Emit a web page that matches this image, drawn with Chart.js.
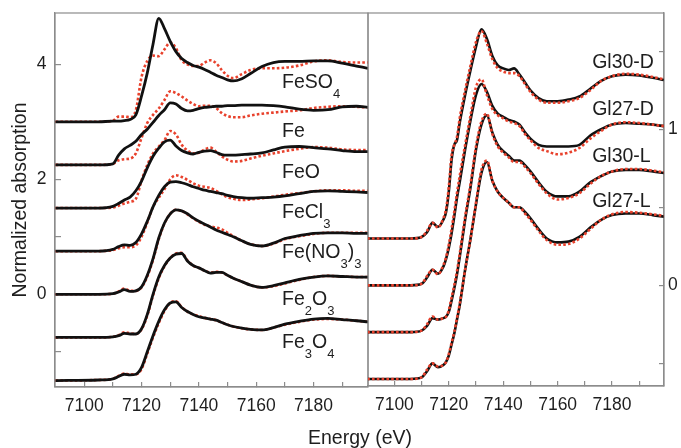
<!DOCTYPE html>
<html><head><meta charset="utf-8">
<script src="https://cdn.jsdelivr.net/npm/chart.js@4.4.1/dist/chart.umd.min.js"></script>
<style>
html,body{margin:0;padding:0;background:#fff;}
#wrap{position:relative;width:681px;height:448px;}
canvas{position:absolute;left:0;top:0;}
</style></head><body>
<div id="wrap"><canvas id="cL" width="681" height="448"></canvas><canvas id="cR" width="681" height="448"></canvas></div>
<script>
// ---------- DATA: left panel (reference compounds) ----------
const energyLeft = [7090,7105,7110,7112,7114,7116,7118,7120,7122,7124,7126,7128,7130,7132,7134,7136,7138,7140,7142,7144,7146,7148,7150,7152,7155,7158,7162,7166,7170,7175,7180,7185,7190,7195,7199];
const feso4Exp = [3.0,3.0,3.01,3.01,3.02,3.04,3.12,3.45,3.85,4.35,4.8,4.62,4.4,4.22,4.1,4.03,3.98,3.95,3.91,3.86,3.81,3.77,3.73,3.71,3.75,3.84,3.96,4.03,4.05,4.05,4.06,4.06,4.02,3.97,3.93];
const feso4Fit = [3.0,3.0,3.02,3.09,3.09,3.08,3.2,3.78,4.06,4.15,4.14,4.26,4.38,4.28,4.07,4.0,3.97,3.97,4.03,4.07,4.02,3.9,3.8,3.76,3.83,3.9,3.93,3.93,3.94,3.98,4.05,4.07,4.04,4.03,4.03];
const feExp = [2.25,2.25,2.27,2.42,2.53,2.59,2.66,2.78,2.87,2.99,3.11,3.21,3.33,3.31,3.23,3.19,3.2,3.23,3.25,3.26,3.27,3.27,3.28,3.28,3.29,3.29,3.29,3.28,3.26,3.22,3.2,3.21,3.26,3.27,3.25];
const feFit = [2.25,2.25,2.27,2.33,2.35,2.36,2.45,2.72,2.98,3.12,3.23,3.38,3.53,3.5,3.44,3.37,3.31,3.27,3.28,3.28,3.24,3.15,3.1,3.08,3.08,3.11,3.14,3.16,3.18,3.2,3.24,3.26,3.27,3.26,3.25];
const feoExp = [1.5,1.5,1.53,1.58,1.64,1.69,1.8,1.97,2.2,2.4,2.54,2.65,2.68,2.58,2.5,2.46,2.44,2.47,2.49,2.5,2.47,2.43,2.42,2.42,2.43,2.44,2.46,2.51,2.56,2.57,2.55,2.53,2.5,2.48,2.48];
const feoFit = [1.5,1.5,1.51,1.54,1.58,1.61,1.66,1.98,2.25,2.45,2.57,2.68,2.84,2.78,2.6,2.5,2.45,2.46,2.52,2.55,2.48,2.4,2.34,2.31,2.32,2.36,2.41,2.45,2.49,2.53,2.56,2.55,2.52,2.51,2.51];
const fecl3Exp = [0.75,0.75,0.78,0.83,0.86,0.85,0.9,1.05,1.27,1.52,1.72,1.87,1.95,1.96,1.94,1.91,1.87,1.84,1.81,1.79,1.77,1.75,1.72,1.7,1.68,1.67,1.68,1.69,1.71,1.75,1.79,1.8,1.79,1.78,1.77];
const fecl3Fit = [0.75,0.75,0.77,0.8,0.82,0.82,0.85,1.0,1.25,1.52,1.68,1.83,2.0,2.07,2.04,1.99,1.93,1.89,1.87,1.85,1.8,1.74,1.69,1.66,1.64,1.65,1.67,1.7,1.73,1.76,1.79,1.81,1.81,1.8,1.8];
const fenitrateExp = [0,0,0.01,0.04,0.08,0.05,0.06,0.13,0.33,0.62,0.98,1.24,1.4,1.47,1.45,1.4,1.33,1.27,1.22,1.17,1.12,1.08,1.04,1.0,0.93,0.87,0.84,0.89,0.97,1.02,1.06,1.07,1.07,1.06,1.06];
const fenitrateFit = [0,0,0.01,0.05,0.1,0.06,0.06,0.12,0.31,0.6,0.96,1.23,1.4,1.47,1.45,1.39,1.32,1.26,1.21,1.18,1.16,1.13,1.07,1.01,0.93,0.87,0.84,0.88,0.96,1.01,1.05,1.07,1.07,1.07,1.07];
const fe2o3Exp = [-0.75,-0.75,-0.74,-0.72,-0.68,-0.69,-0.69,-0.6,-0.35,0.0,0.3,0.5,0.63,0.7,0.71,0.58,0.5,0.46,0.41,0.37,0.38,0.38,0.33,0.28,0.22,0.16,0.12,0.15,0.2,0.26,0.3,0.32,0.31,0.3,0.3];
const fe2o3Fit = [-0.75,-0.75,-0.74,-0.71,-0.66,-0.68,-0.69,-0.61,-0.37,-0.02,0.28,0.49,0.63,0.71,0.72,0.59,0.5,0.46,0.41,0.38,0.39,0.38,0.33,0.28,0.22,0.16,0.12,0.14,0.19,0.25,0.3,0.32,0.31,0.3,0.3];
const fe3o4Exp = [-1.5,-1.49,-1.47,-1.43,-1.39,-1.4,-1.39,-1.27,-1.0,-0.72,-0.47,-0.27,-0.15,-0.13,-0.23,-0.3,-0.35,-0.39,-0.41,-0.43,-0.45,-0.49,-0.53,-0.56,-0.59,-0.61,-0.62,-0.58,-0.52,-0.47,-0.43,-0.42,-0.44,-0.46,-0.48];
const fe3o4Fit = [-1.5,-1.49,-1.47,-1.42,-1.38,-1.39,-1.39,-1.3,-1.03,-0.75,-0.5,-0.29,-0.15,-0.12,-0.22,-0.3,-0.35,-0.38,-0.41,-0.43,-0.45,-0.49,-0.53,-0.56,-0.59,-0.61,-0.62,-0.58,-0.53,-0.48,-0.44,-0.43,-0.44,-0.46,-0.48];
const leftNames = ['FeSO_4','Fe','FeO','FeCl_3','Fe(NO_3)_3','Fe_2O_3','Fe_3O_4'];

// ---------- DATA: right panel (glass samples) ----------
const energyRight = [7090,7100,7106,7110,7112,7114,7116,7118,7119,7120,7121,7122,7123,7124,7126,7128,7130,7132,7134,7136,7138,7140,7142,7144,7146,7148,7150,7153,7156,7160,7164,7168,7172,7176,7180,7185,7190,7195,7199];
const gl30dExp = [0.3,0.3,0.3,0.31,0.34,0.4,0.375,0.42,0.47,0.6,0.8,0.9,0.93,1.04,1.22,1.38,1.53,1.64,1.58,1.47,1.41,1.39,1.38,1.39,1.35,1.3,1.25,1.2,1.18,1.18,1.19,1.21,1.26,1.31,1.34,1.35,1.345,1.33,1.316];
const gl30dFit = [0.3,0.3,0.3,0.31,0.35,0.4,0.37,0.43,0.49,0.63,0.83,0.9,0.95,1.07,1.25,1.41,1.56,1.63,1.55,1.45,1.39,1.37,1.36,1.36,1.34,1.29,1.24,1.19,1.17,1.17,1.18,1.2,1.25,1.31,1.34,1.355,1.35,1.335,1.32];
const gl27dExp = [0,0,0,0.01,0.05,0.1,0.075,0.12,0.17,0.24,0.33,0.44,0.56,0.66,0.87,1.06,1.22,1.29,1.24,1.15,1.1,1.08,1.06,1.05,1.03,0.98,0.94,0.9,0.89,0.89,0.89,0.9,0.96,1.0,1.03,1.04,1.035,1.03,1.02];
const gl27dFit = [0,0,0,0.01,0.06,0.1,0.07,0.13,0.18,0.26,0.36,0.47,0.59,0.7,0.9,1.09,1.27,1.32,1.22,1.13,1.09,1.07,1.05,1.04,1.02,0.97,0.93,0.88,0.86,0.84,0.85,0.88,0.94,0.99,1.03,1.045,1.04,1.03,1.02];
const gl30lExp = [-0.3,-0.3,-0.3,-0.29,-0.26,-0.21,-0.22,-0.21,-0.2,-0.17,-0.1,-0.02,0.07,0.18,0.42,0.63,0.87,1.03,1.09,0.98,0.9,0.86,0.83,0.8,0.8,0.77,0.73,0.66,0.6,0.57,0.57,0.6,0.66,0.7,0.73,0.74,0.74,0.73,0.72];
const gl30lFit = [-0.3,-0.3,-0.3,-0.29,-0.25,-0.2,-0.22,-0.21,-0.2,-0.16,-0.08,0.0,0.09,0.2,0.44,0.65,0.89,1.05,1.1,0.97,0.89,0.85,0.82,0.79,0.79,0.76,0.72,0.65,0.59,0.55,0.56,0.59,0.65,0.7,0.73,0.745,0.745,0.735,0.725];
const gl27lExp = [-0.6,-0.6,-0.6,-0.59,-0.55,-0.5,-0.525,-0.51,-0.49,-0.45,-0.38,-0.31,-0.22,-0.13,0.1,0.3,0.52,0.72,0.79,0.67,0.6,0.56,0.53,0.5,0.5,0.47,0.43,0.36,0.3,0.275,0.28,0.31,0.37,0.42,0.45,0.46,0.46,0.45,0.44];
const gl27lFit = [-0.6,-0.6,-0.6,-0.59,-0.54,-0.5,-0.52,-0.51,-0.49,-0.44,-0.37,-0.3,-0.21,-0.12,0.1,0.3,0.53,0.74,0.8,0.67,0.6,0.56,0.53,0.5,0.5,0.46,0.42,0.35,0.29,0.26,0.265,0.3,0.36,0.42,0.455,0.47,0.465,0.455,0.445];
const rightNames = ['Gl30-D','Gl27-D','Gl30-L','Gl27-L'];

// ---------- TICKS ----------
const xTicks = [7100,7110,7120,7130,7140,7150,7160,7170,7180,7190];
const xTickLabels = [7100,7120,7140,7160,7180];
const yTicksLeft = [-1,0,1,2,3,4];
const yTickLabelsLeft = [0,2,4];
const yTicksRight = [-0.5,0,0.5,1,1.5];
const yTickLabelsRight = [0,1];

// ---------- STYLE / LAYOUT ----------
const FONT = '"Liberation Sans", Arial, sans-serif';
const BLACK = '#111111', RED = '#e8412c', FRAME = '#8c8c8c', TXT = '#1e1e1e';
const leftLabelPos = {e: 7169, y: [3.583, 2.741, 2.017, 1.322, 0.626, -0.186, -0.939]};
const rightLabelPos = {e: 7172.7, y: [1.391, 1.092, 0.792, 0.504]};

const pts = (xs, ys) => xs.map((x, i) => ({x, y: ys[i]}));

function drawRich(ctx, x, y, text, size, subSize, subDrop) {
  const runs = [];
  for (let i = 0; i < text.length; i++) {
    let ch = text[i], sub = false;
    if (ch === '_') { sub = true; ch = text[++i]; }
    if (runs.length && runs[runs.length-1].sub === sub) runs[runs.length-1].t += ch;
    else runs.push({t: ch, sub});
  }
  let cx = x;
  ctx.textAlign = 'left';
  ctx.textBaseline = 'alphabetic';
  for (const r of runs) {
    ctx.font = (r.sub ? subSize : size) + 'px ' + FONT;
    ctx.fillText(r.t, cx, r.sub ? y + subDrop : y);
    cx += ctx.measureText(r.t).width;
  }
}

function framePlugin(id) {
  return {
    id,
    beforeDatasetsDraw(chart) {
      const a = chart.chartArea, ctx = chart.ctx;
      ctx.save();
      ctx.strokeStyle = FRAME; ctx.lineWidth = 1.2;
      ctx.strokeRect(a.left, a.top, a.right - a.left, a.bottom - a.top);
      ctx.restore();
    }
  };
}

function labelPlugin(id, names, pos, extra) {
  return {
    id,
    afterDatasetsDraw(chart) {
      const ctx = chart.ctx, xs = chart.scales.x, ys = chart.scales.y;
      ctx.save();
      ctx.fillStyle = TXT;
      names.forEach((n, i) => {
        drawRich(ctx, xs.getPixelForValue(pos.e), ys.getPixelForValue(pos.y[i]), n, 19.5, 13, 9.5);
      });
      if (extra) extra(ctx, chart);
      ctx.restore();
    }
  };
}

function zeroPad(ax) { ax.paddingTop = 0; ax.paddingBottom = 0; ax.paddingLeft = 0; ax.paddingRight = 0; }

function makeScales(opt) {
  return {
    x: {
      type: 'linear', position: 'bottom', min: opt.xmin, max: opt.xmax,
      afterBuildTicks: ax => { ax.ticks = xTicks.map(v => ({value: v})); },
      afterFit: ax => { ax.height = opt.xh; zeroPad(ax); },
      ticks: {autoSkip: false, maxRotation: 0, padding: 13.5, color: TXT,
        font: {family: FONT, size: 17.5},
        callback: v => xTickLabels.includes(v) ? String(v) : ''},
      grid: {display: true, drawOnChartArea: false, drawTicks: true, tickLength: -5, color: FRAME, lineWidth: 1.2},
      border: {display: true, color: FRAME, width: 1.2}
    },
    y: {
      type: 'linear', position: opt.ypos, min: opt.ymin, max: opt.ymax,
      afterBuildTicks: ax => { ax.ticks = opt.yticks.map(v => ({value: v})); },
      afterFit: ax => { ax.width = opt.yw; zeroPad(ax); },
      ticks: {autoSkip: false, padding: opt.ypad, color: TXT,
        font: {family: FONT, size: 17.5},
        callback: v => opt.ylabels.includes(v) ? String(v) : ''},
      grid: {display: true, drawOnChartArea: false, drawTicks: true, tickLength: opt.ytl, color: FRAME, lineWidth: 1.2},
      border: {display: true, color: FRAME, width: 1.2},
      title: opt.ytitle ? {display: true, text: opt.ytitle, color: TXT,
        font: {family: FONT, size: 19.5, lineHeight: 1.2}, padding: {top: 9, bottom: 0}} : {display: false}
    }
  };
}

function ds(xs, ys, kind, lw, order) {
  return {
    data: pts(xs, ys),
    borderColor: kind === 'exp' ? BLACK : RED,
    borderWidth: lw,
    borderDash: kind === 'exp' ? [] : [2.6, 2.2],
    borderCapStyle: 'butt',
    pointRadius: 0,
    fill: false,
    cubicInterpolationMode: 'monotone',
    order
  };
}

const common = {
  responsive: false, animation: false, devicePixelRatio: 1,
  plugins: {legend: {display: false}, tooltip: {enabled: false}},
  events: []
};

// ---------- LEFT CHART ----------
const leftPairs = [[feso4Exp, feso4Fit],[feExp, feFit],[feoExp, feoFit],[fecl3Exp, fecl3Fit],[fenitrateExp, fenitrateFit],[fe2o3Exp, fe2o3Fit],[fe3o4Exp, fe3o4Fit]];
const leftDatasets = [];
leftPairs.forEach(([e, f]) => {
  leftDatasets.push(ds(energyLeft, f, 'fit', 2.6, 2));
  leftDatasets.push(ds(energyLeft, e, 'exp', 2.8, 1));
});

new Chart(document.getElementById('cL'), {
  type: 'line',
  data: {datasets: leftDatasets},
  options: Object.assign({}, common, {
    layout: {padding: {left: 0, top: 13, right: 313, bottom: 0}},
    scales: makeScales({xmin: 7089.8, xmax: 7199, xh: 61, ypos: 'left', ymin: -1.612, ymax: 4.892,
      yticks: yTicksLeft, ylabels: yTickLabelsLeft, yw: 55, ypad: 14.5, ytl: -6, ytitle: 'Normalized absorption'})
  }),
  plugins: [framePlugin('frameL'), labelPlugin('labelsL', leftNames, leftLabelPos, (ctx) => {
    ctx.font = '19.5px ' + FONT;
    ctx.textAlign = 'center';
    ctx.textBaseline = 'alphabetic';
    ctx.fillText('Energy (eV)', 360, 444);
  })]
});

// ---------- RIGHT CHART ----------
const rightPairs = [[gl30dExp, gl30dFit],[gl27dExp, gl27dFit],[gl30lExp, gl30lFit],[gl27lExp, gl27lFit]];
const rightDatasets = [];
rightPairs.forEach(([e, f]) => {
  rightDatasets.push(ds(energyRight, e, 'exp', 2.6, 2));
  rightDatasets.push(ds(energyRight, f, 'fit', 2.6, 1));
});

new Chart(document.getElementById('cR'), {
  type: 'line',
  data: {datasets: rightDatasets},
  options: Object.assign({}, common, {
    layout: {padding: {left: 368, top: 13, right: 0, bottom: 0}},
    scales: makeScales({xmin: 7090.3, xmax: 7199.1, xh: 62, ypos: 'right', ymin: -0.645, ymax: 1.745,
      yticks: yTicksRight, ylabels: yTickLabelsRight, yw: 17, ypad: 9, ytl: -5, ytitle: null})
  }),
  plugins: [framePlugin('frameR'), labelPlugin('labelsR', rightNames, rightLabelPos)]
});
</script>
</body></html>
